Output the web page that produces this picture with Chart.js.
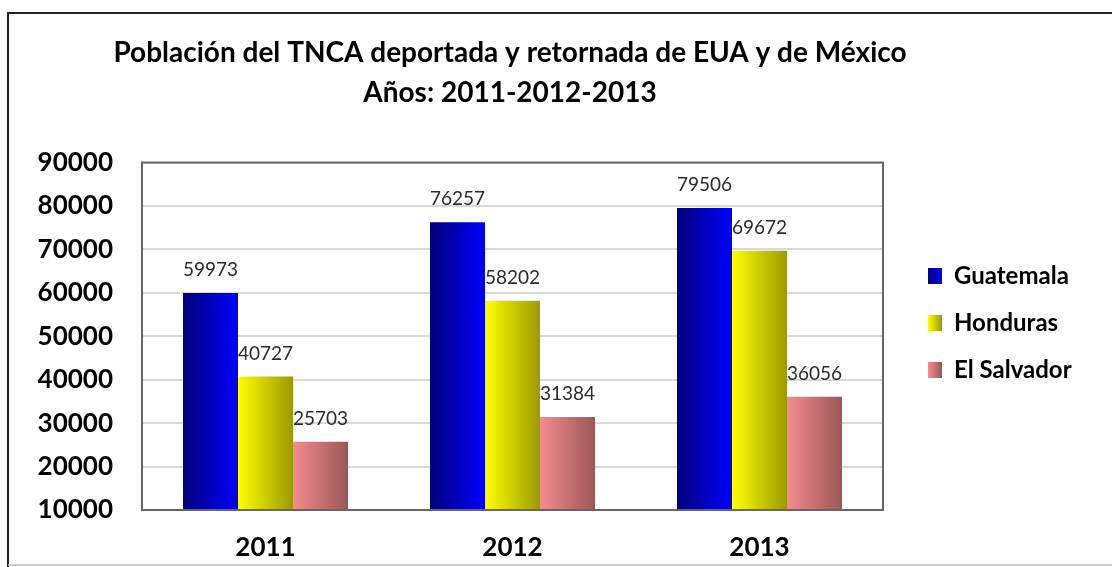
<!DOCTYPE html>
<html>
<head>
<meta charset="utf-8">
<script src="https://cdn.jsdelivr.net/npm/chart.js@4/dist/chart.umd.min.js"></script>
<style>
  html, body { margin: 0; padding: 0; background: #fff; }
  #wrap { width: 1112px; height: 567px; }
</style>
</head>
<body>
<div id="wrap"><canvas id="grafica"></canvas></div>
<script>
// Datos
const anios = ['2011', '2012', '2013'];
const paises = ['Guatemala', 'Honduras', 'El Salvador'];
const guatemala = [59973, 76257, 79506];
const honduras = [40727, 58202, 69672];
const salvador = [25703, 31384, 36056];
const titulo = ['Población del TNCA deportada y retornada de EUA y de México', 'Años: 2011-2012-2013'];

// colores del degradado de cada serie (izquierda -> derecha)
const degradados = [
  ['#00007a', '#0000ff'],
  ['#ffff00', '#9c9a00'],
  ['#f38d8d', '#9c5656']
];
const catPct = 0.668;
// posición de la leyenda
const leyendaX = 905;
const leyendaPad = 23;
const cajaAncho = 14;

Chart.defaults.font.family = 'Lato, "Open Sans", sans-serif';
Chart.defaults.color = '#000';

// relleno con degradado horizontal para cada barra
function rellenoBarra(c) {
  const chart = c.chart;
  const xs = chart.scales.x;
  const col = degradados[c.datasetIndex];
  if (!xs || c.dataIndex === undefined) return col[0];
  const centro = xs.getPixelForValue(c.dataIndex);
  const grupo = xs.width / anios.length * catPct;
  const ancho = grupo / paises.length;
  const izq = centro - grupo / 2 + c.datasetIndex * ancho;
  const g = chart.ctx.createLinearGradient(izq, 0, izq + ancho, 0);
  g.addColorStop(0, col[0]);
  g.addColorStop(1, col[1]);
  return g;
}

// marco exterior del gráfico
const marco = {
  id: 'marco',
  beforeDraw(chart) {
    const ctx = chart.ctx;
    ctx.save();
    ctx.fillStyle = '#fff';
    ctx.fillRect(0, 0, chart.width, chart.height);
    ctx.strokeStyle = '#222';
    ctx.lineWidth = 2;
    ctx.beginPath();
    ctx.moveTo(chart.width, 13);
    ctx.lineTo(8, 13);
    ctx.lineTo(8, chart.height);
    ctx.stroke();
    ctx.strokeStyle = '#bbb';
    ctx.lineWidth = 1.5;
    ctx.beginPath();
    ctx.moveTo(8, 565);
    ctx.lineTo(chart.width, 565);
    ctx.stroke();
    ctx.restore();
  },
  afterLayout(chart) {
    // mover la leyenda a su sitio
    const lg = chart.legend;
    const h = lg.bottom - lg.top;
    lg.left = leyendaX;
    lg.right = lg.left + 200;
    lg.top = 241;
    lg.bottom = lg.top + h;
  },
  afterDatasetsDraw(chart) {
    const ctx = chart.ctx;
    const a = chart.chartArea;
    ctx.save();
    // borde del área de trazado
    ctx.strokeStyle = '#666';
    ctx.lineWidth = 2;
    ctx.strokeRect(a.left, a.top, a.right - a.left, a.bottom - a.top);
    // etiquetas de valores
    ctx.font = '19px Lato, "Open Sans", sans-serif';
    ctx.fillStyle = '#2b2b2b';
    ctx.textAlign = 'center';
    ctx.textBaseline = 'middle';
    chart.data.datasets.forEach(function (ds, i) {
      const meta = chart.getDatasetMeta(i);
      meta.data.forEach(function (bar, j) {
        ctx.fillText(String(ds.data[j]), bar.x, bar.y - 23);
      });
    });
    ctx.restore();
  }
};

const grafica = new Chart(document.getElementById('grafica'), {
  type: 'bar',
  data: {
    labels: anios,
    datasets: [
      { label: paises[0], data: guatemala, backgroundColor: rellenoBarra },
      { label: paises[1], data: honduras, backgroundColor: rellenoBarra },
      { label: paises[2], data: salvador, backgroundColor: rellenoBarra }
    ]
  },
  options: {
    responsive: true,
    maintainAspectRatio: false,
    animation: false,
    datasets: { bar: { barPercentage: 1, categoryPercentage: catPct } },
    layout: { padding: { left: 8, right: 100, top: 0, bottom: 0 } },
    plugins: {
      title: {
        display: true,
        text: titulo,
        color: '#000',
        font: { size: 28, weight: 'bold', lineHeight: 1.42 },
        padding: { top: 33, bottom: 50 }
      },
      legend: {
        position: 'right',
        align: 'start',
        maxWidth: 129,
        labels: {
          boxWidth: cajaAncho,
          boxHeight: 16,
          padding: leyendaPad,
          color: '#000',
          font: { size: 24, weight: 'bold' },
          generateLabels(chart) {
            const x0 = leyendaX + leyendaPad;
            return chart.data.datasets.map(function (ds, i) {
              const col = degradados[i];
              const g = chart.ctx.createLinearGradient(x0, 0, x0 + cajaAncho, 0);
              g.addColorStop(0, col[0]);
              g.addColorStop(1, col[1]);
              return {
                text: ds.label,
                fillStyle: g,
                strokeStyle: col[0],
                lineWidth: 0,
                hidden: false,
                datasetIndex: i
              };
            });
          }
        }
      },
      tooltip: { enabled: false }
    },
    scales: {
      x: {
        grid: { display: false, drawTicks: false },
        border: { display: false },
        ticks: { padding: 22, color: '#000', font: { size: 26, weight: 'bold' } },
        afterFit(s) { s.height = 57; }
      },
      y: {
        min: 10000,
        max: 90000,
        grid: { color: '#d9d9d9', lineWidth: 2, drawTicks: false },
        border: { display: false },
        ticks: {
          stepSize: 10000,
          padding: 29,
          color: '#000',
          font: { size: 26, weight: 'bold' },
          callback: function (v) { return String(v); }
        },
        afterFit(s) { s.width = 134; }
      }
    }
  },
  plugins: [marco]
});
</script>
</body>
</html>
